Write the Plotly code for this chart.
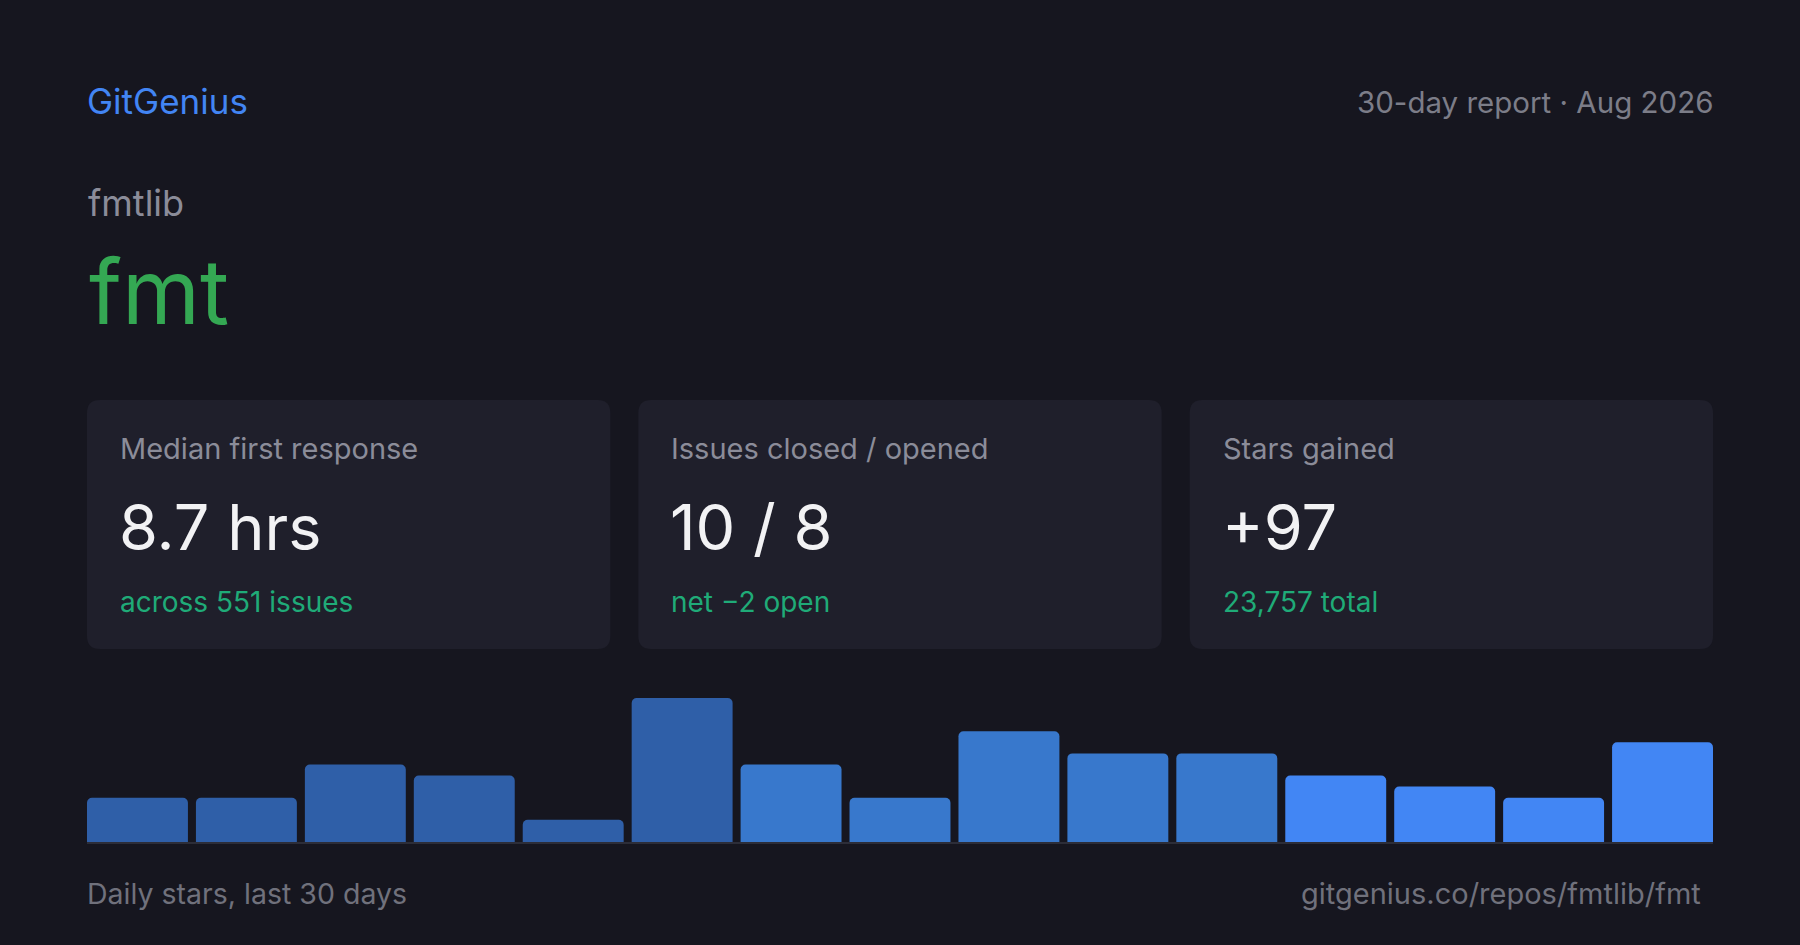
import plotly.graph_objects as go

# colors
background_color = '#16161f'
card_color = '#1f1f2b'
brand_color = '#4285f4'
repo_color = '#34a853'
value_color = '#f2f2f4'
sub_color = '#1fab78'
label_color = '#8b8c99'
header_color = '#7c7d88'
footer_color = '#70717c'
baseline_color = '#2c2d38'
bar_colors = ['#2f5fa8'] * 6 + ['#3878cc'] * 5 + ['#4286f4'] * 4

font_family = 'Inter, "Noto Sans", sans-serif'

# data
brand = "GitGenius"
report_period = "30-day report · Aug 2026"
repo_owner = "fmtlib"
repo_name = "fmt"
card_labels = ["Median first response", "Issues closed / opened", "Stars gained"]
card_values = ["8.7 hrs", "10 / 8", "+97"]
card_subs = ["across 551 issues", "net −2 open", "23,757 total"]
day_buckets = ["1–2", "3–4", "5–6", "7–8", "9–10", "11–12", "13–14", "15–16",
               "17–18", "19–20", "21–22", "23–24", "25–26", "27–28", "29–30"]
daily_stars = [4, 4, 7, 6, 2, 13, 7, 4, 10, 8, 8, 6, 5, 4, 9]
chart_caption = "Daily stars, last 30 days"
repo_url = "gitgenius.co/repos/fmtlib/fmt"

W, H = 1800, 945
LEFT, RIGHT = 87, 1713


def px(x):
    return x / W


def py(y):
    # y measured from the top of the image
    return 1 - y / H


def roundedRect(x0, y0, x1, y1, r):
    # path in paper coords, corners drawn with quadratic curves
    rx, ry = r / W, r / H
    a, b, c, d = px(x0), py(y1), px(x1), py(y0)
    return (f"M {a + rx},{b} L {c - rx},{b} Q {c},{b} {c},{b + ry} "
            f"L {c},{d - ry} Q {c},{d} {c - rx},{d} L {a + rx},{d} "
            f"Q {a},{d} {a},{d - ry} L {a},{b + ry} Q {a},{b} {a + rx},{b} Z")


def addText(fig, text, x, y, size, color, xanchor='left'):
    fig.add_annotation(
        text=text, x=px(x), y=py(y), xref='paper', yref='paper',
        xanchor=xanchor, yanchor='middle', showarrow=False,
        font=dict(family=font_family, size=size, color=color),
    )


fig = go.Figure()

# stars bar chart
n = len(daily_stars)
pitch = (RIGHT - LEFT + 8) / n
gap = 8 / pitch
half = (1 - gap) / 2
fig.add_trace(
    go.Bar(
        x=list(range(n)),
        y=daily_stars,
        hovertext=day_buckets,
        marker=dict(color=bar_colors, cornerradius=5, line=dict(width=0)),
    )
)

fig.update_xaxes(
    domain=[px(LEFT), px(RIGHT)],
    range=[-half, n - 1 + half],
    showgrid=False, zeroline=False, showticklabels=False,
    showline=True, linecolor=baseline_color, linewidth=2,
)
fig.update_yaxes(
    domain=[py(842), py(698)],
    range=[0, max(daily_stars)],
    showgrid=False, zeroline=False, showticklabels=False, showline=False,
)

# stat cards
card_w = (RIGHT - LEFT - 2 * 28) / 3
for i in range(3):
    x0 = LEFT + i * (card_w + 28)
    fig.add_shape(
        type='path', path=roundedRect(x0, 400, x0 + card_w, 649, 13),
        xref='paper', yref='paper', fillcolor=card_color, line=dict(width=0),
        layer='below',
    )
    addText(fig, card_labels[i], x0 + 31, 449, 29, label_color)
    addText(fig, card_values[i], x0 + 30, 527, 63, value_color)
    addText(fig, card_subs[i], x0 + 31, 602, 28, sub_color)

# header
addText(fig, brand, LEFT - 2, 101, 35, brand_color)
addText(fig, report_period, RIGHT + 2, 102, 29.5, header_color, xanchor='right')
addText(fig, repo_owner, LEFT - 1, 203, 36, label_color)
addText(fig, repo_name, LEFT, 291, 89, repo_color)

# footer
addText(fig, chart_caption, LEFT - 2, 893, 28.5, footer_color)
addText(fig, repo_url, 1703, 893, 29, footer_color, xanchor='right')

fig.update_layout(
    width=W,
    height=H,
    margin=dict(l=0, r=0, t=0, b=0),
    paper_bgcolor=background_color,
    plot_bgcolor=background_color,
    bargap=gap,
    showlegend=False,
)

fig.write_html(
    "out.html",
    config=dict(displayModeBar=False),
    post_script="document.body.style.margin='0';document.body.style.background='%s';" % background_color,
)
